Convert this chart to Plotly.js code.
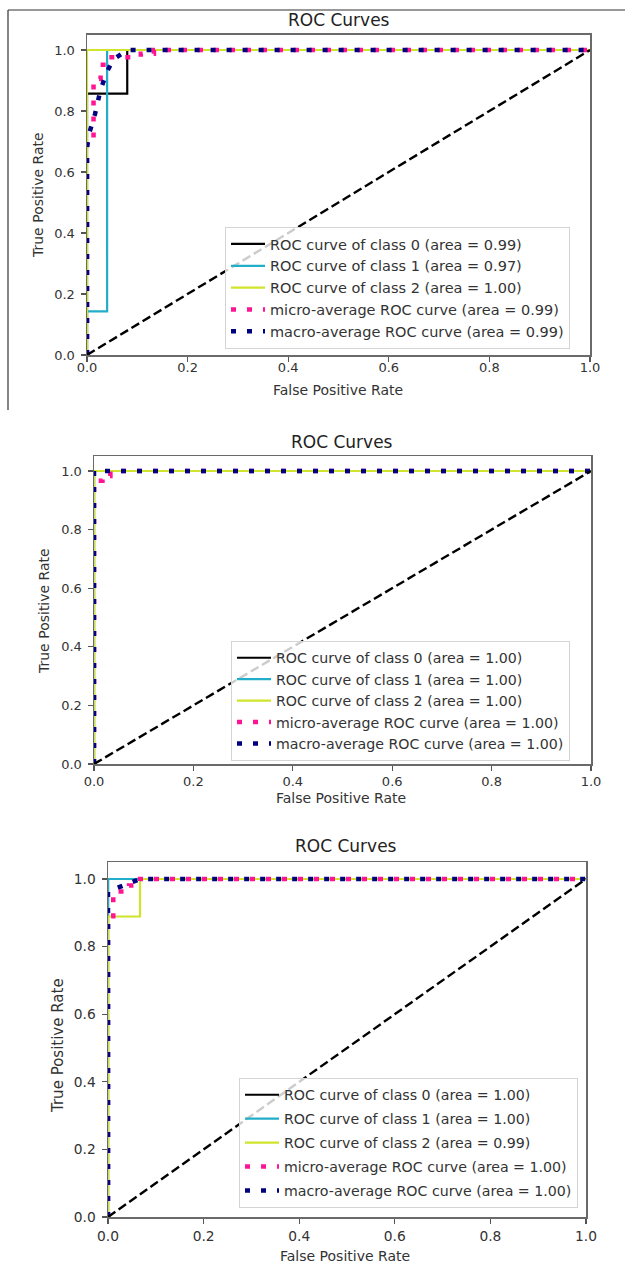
<!DOCTYPE html>
<html>
<head>
<meta charset="utf-8">
<script src="https://cdn.plot.ly/plotly-3.0.1.min.js"></script>
<style>
  html, body { margin: 0; padding: 0; background: #ffffff; }
  #chart { width: 625px; height: 1265px; }
</style>
</head>
<body>
<div id="chart"></div>
<script>
// ---------------- DATA ----------------
const chartTitle = "ROC Curves";
const xTitle = "False Positive Rate";
const yTitle = "True Positive Rate";
const tickValues = [0, 0.2, 0.4, 0.6, 0.8, 1.0];
const tickLabels = ["0.0", "0.2", "0.4", "0.6", "0.8", "1.0"];
const seriesColors = ["#000000", "#22aec8", "#cfe42a", "#ff1493", "#000080"];

// Panel 1
const p1Labels = [
  "ROC curve of class 0 (area = 0.99)",
  "ROC curve of class 1 (area = 0.97)",
  "ROC curve of class 2 (area = 1.00)",
  "micro-average ROC curve (area = 0.99)",
  "macro-average ROC curve (area = 0.99)"
];
const p1Class0Fpr = [0, 0, 0.08, 0.08, 1];
const p1Class0Tpr = [0, 0.857, 0.857, 1, 1];
const p1Class1Fpr = [0, 0, 0.04, 0.04, 1];
const p1Class1Tpr = [0, 0.143, 0.143, 1, 1];
const p1Class2Fpr = [0, 0, 1];
const p1Class2Tpr = [0, 1, 1];
const p1MicroFpr = [0, 0, 0.013, 0.013, 0.027, 0.027, 0.04, 0.04, 0.107, 0.107, 0.133, 0.133, 1];
const p1MicroTpr = [0, 0.71, 0.71, 0.905, 0.905, 0.952, 0.952, 0.976, 0.976, 0.988, 0.988, 1, 1];
const p1MacroFpr = [0, 0, 0.005, 0.016, 0.027, 0.04, 0.053, 0.08, 1];
const p1MacroTpr = [0, 0.68, 0.73, 0.79, 0.87, 0.93, 0.97, 1, 1];

// Panel 2
const p2Labels = [
  "ROC curve of class 0 (area = 1.00)",
  "ROC curve of class 1 (area = 1.00)",
  "ROC curve of class 2 (area = 1.00)",
  "micro-average ROC curve (area = 1.00)",
  "macro-average ROC curve (area = 1.00)"
];
const p2Class0Fpr = [0, 0, 1];
const p2Class0Tpr = [0, 1, 1];
const p2Class1Fpr = [0, 0, 1];
const p2Class1Tpr = [0, 1, 1];
const p2Class2Fpr = [0, 0, 1];
const p2Class2Tpr = [0, 1, 1];
const p2MicroFpr = [0, 0, 0.017, 0.017, 0.033, 0.033, 1];
const p2MicroTpr = [0, 0.967, 0.967, 0.983, 0.983, 1, 1];
const p2MacroFpr = [0, 0, 1];
const p2MacroTpr = [0, 1, 1];

// Panel 3
const p3Labels = [
  "ROC curve of class 0 (area = 1.00)",
  "ROC curve of class 1 (area = 1.00)",
  "ROC curve of class 2 (area = 0.99)",
  "micro-average ROC curve (area = 1.00)",
  "macro-average ROC curve (area = 1.00)"
];
const p3Class0Fpr = [0, 0, 1];
const p3Class0Tpr = [0, 1, 1];
const p3Class1Fpr = [0, 0, 1];
const p3Class1Tpr = [0, 1, 1];
const p3Class2Fpr = [0, 0, 0.067, 0.067, 1];
const p3Class2Tpr = [0, 0.889, 0.889, 1, 1];
const p3MicroFpr = [0, 0, 0.011, 0.011, 0.044, 0.044, 0.067, 0.067, 1];
const p3MicroTpr = [0, 0.89, 0.89, 0.963, 0.963, 0.981, 0.981, 1, 1];
const p3MacroFpr = [0, 0, 0.067, 1];
const p3MacroTpr = [0, 0.963, 1, 1];

const chanceFpr = [0, 1];
const chanceTpr = [0, 1];

// ---------------- LAYOUT HELPERS ----------------
const W = 625, H = 1265;
const FONT = "DejaVu Sans, Verdana, sans-serif";
const px2x = p => p / W;
const px2y = p => 1 - p / H;

const panels = [
  { sfx: "", legend: "legend", labels: p1Labels,
    series: [[p1Class0Fpr, p1Class0Tpr], [p1Class1Fpr, p1Class1Tpr], [p1Class2Fpr, p1Class2Tpr], [p1MicroFpr, p1MicroTpr], [p1MacroFpr, p1MacroTpr]],
    x0: 87, x1: 590, yb: 355, yu: 305,
    title: [339, 20], xlab: [338, 390], ylab: [38, 195],
    leg: [225, 227], legFont: 14.5, legGap: 0, xStand: -5, tickSize: 13 },
  { sfx: "2", legend: "legend2", labels: p2Labels,
    series: [[p2Class0Fpr, p2Class0Tpr], [p2Class1Fpr, p2Class1Tpr], [p2Class2Fpr, p2Class2Tpr], [p2MicroFpr, p2MicroTpr], [p2MacroFpr, p2MacroTpr]],
    x0: 94, x1: 591, yb: 764, yu: 293,
    title: [342, 442], xlab: [341, 798], ylab: [44, 611],
    leg: [231, 641], legFont: 14.2, legGap: 0, xStand: 0, tickSize: 13 },
  { sfx: "3", legend: "legend3", labels: p3Labels,
    series: [[p3Class0Fpr, p3Class0Tpr], [p3Class1Fpr, p3Class1Tpr], [p3Class2Fpr, p3Class2Tpr], [p3MicroFpr, p3MicroTpr], [p3MacroFpr, p3MacroTpr]],
    x0: 108, x1: 586, yb: 1217, yu: 338,
    title: [346, 846], xlab: [345, 1256], ylab: [58, 1045],
    leg: [239, 1078], legFont: 14.2, legGap: 2.5, xStand: 1, tickSize: 13.8 }
];

const traces = [];
const layout = {
  width: W, height: H,
  margin: { l: 0, r: 0, t: 0, b: 0, pad: 0 },
  paper_bgcolor: "#ffffff",
  plot_bgcolor: "#ffffff",
  showlegend: true,
  font: { family: FONT, color: "#333333" },
  annotations: [],
  shapes: [
    { type: "line", xref: "paper", yref: "paper", x0: px2x(8), x1: 1, y0: px2y(10), y1: px2y(10), line: { color: "#333333", width: 1.2 } },
    { type: "line", xref: "paper", yref: "paper", x0: px2x(8), x1: px2x(8), y0: px2y(10), y1: px2y(410), line: { color: "#333333", width: 1.2 } }
  ]
};

panels.forEach((p, pi) => {
  const xa = "x" + p.sfx, ya = "y" + p.sfx;
  p.series.forEach((s, i) => {
    const dotted = i >= 3;
    traces.push({
      type: "scatter", mode: "lines",
      x: s[0], y: s[1],
      xaxis: xa, yaxis: ya,
      name: p.labels[i],
      legend: p.legend,
      legendgroup: "p" + pi + "s" + i,
      line: dotted
        ? { color: seriesColors[i], width: 4.5, dash: "5px,11px" }
        : { color: seriesColors[i], width: 2.2 },
      hoverinfo: "skip"
    });
  });
  traces.push({
    type: "scatter", mode: "lines",
    x: chanceFpr, y: chanceTpr,
    xaxis: xa, yaxis: ya,
    showlegend: false,
    line: { color: "#000000", width: 2.4, dash: "9px,4px" },
    hoverinfo: "skip"
  });

  const yTop = p.yb - 1.05 * p.yu;
  const axisCommon = {
    showline: true, mirror: true, linecolor: "#6a6a6a", linewidth: 1.5,
    showgrid: false, zeroline: false,
    ticks: "outside", ticklen: 5, tickwidth: 1.2, tickcolor: "#555555",
    tickvals: tickValues, ticktext: tickLabels,
    tickfont: { family: FONT, size: p.tickSize, color: "#333333" },
    fixedrange: true
  };
  layout["xaxis" + p.sfx] = Object.assign({}, axisCommon, {
    domain: [px2x(p.x0), px2x(p.x1)], anchor: ya, range: [0, 1],
    ticklabelstandoff: p.xStand
  });
  layout["yaxis" + p.sfx] = Object.assign({}, axisCommon, {
    domain: [px2y(p.yb), px2y(yTop)], anchor: xa, range: [0, 1.05],
    ticklabelstandoff: 3
  });

  layout[p.legend] = {
    x: px2x(p.leg[0]), y: px2y(p.leg[1]), xanchor: "left", yanchor: "top",
    xref: "paper", yref: "paper",
    bgcolor: "rgba(255,255,255,0.8)", bordercolor: "#d4d4d4", borderwidth: 1,
    font: { family: FONT, size: p.legFont, color: "#333333" },
    itemwidth: 34, traceorder: "grouped", tracegroupgap: p.legGap
  };

  layout.annotations.push(
    { text: chartTitle, xref: "paper", yref: "paper", x: px2x(p.title[0]), y: px2y(p.title[1]),
      xanchor: "center", yanchor: "middle", showarrow: false,
      font: { family: FONT, size: 17, color: "#222222" } },
    { text: xTitle, xref: "paper", yref: "paper", x: px2x(p.xlab[0]), y: px2y(p.xlab[1]),
      xanchor: "center", yanchor: "middle", showarrow: false,
      font: { family: FONT, size: 14, color: "#333333" } },
    { text: yTitle, xref: "paper", yref: "paper", x: px2x(p.ylab[0]), y: px2y(p.ylab[1]),
      xanchor: "center", yanchor: "middle", showarrow: false, textangle: -90,
      font: { family: FONT, size: pi === 2 ? 15 : 14, color: "#333333" } }
  );
});

Plotly.newPlot("chart", traces, layout, { staticPlot: true, displayModeBar: false });
</script>
</body>
</html>
